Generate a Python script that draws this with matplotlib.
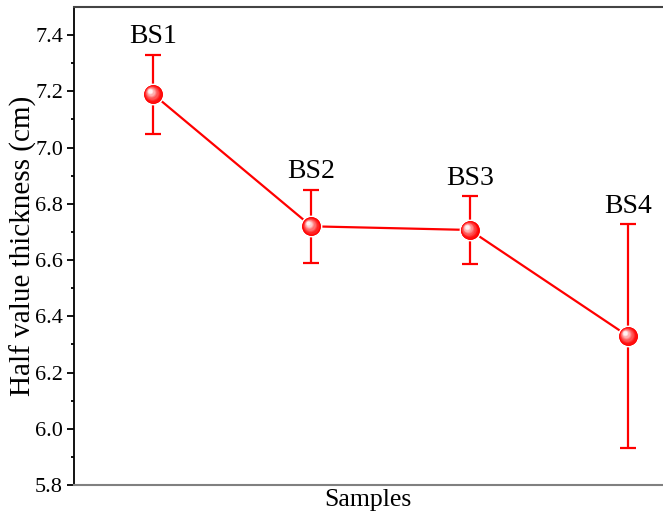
import matplotlib.pyplot as plt
import matplotlib.transforms as mtransforms
import numpy as np

samples = ['BS1', 'BS2', 'BS3', 'BS4']
hvt = [7.19, 6.72, 6.707, 6.33]
hvt_err = [0.14, 0.13, 0.12, 0.397]

plt.rcParams['font.family'] = ['Liberation Serif', 'DejaVu Serif']

fig = plt.figure(figsize=(6.63, 5.17), dpi=100)
ax = fig.add_axes([0.1116, 0.0619, 0.888, 0.9246])

x = np.arange(1, len(samples) + 1)
ax.errorbar(x, hvt, yerr=hvt_err, color='#ff0000', lw=1.6, elinewidth=1.6,
            capsize=5.5, capthick=1.6, zorder=2)

# glossy balls: stack of circles fading towards a white spot
ax.plot(x, hvt, 'o', ms=14.5, mfc='#ff0000', mec='white', mew=1.2, zorder=3)
n = 10
for k in range(n):
    t = k / (n - 1)
    size = 13.5 * (1 - t) + 3.0 * t
    col = (1.0, 0.95 * t ** 1.3, 0.95 * t ** 1.3)
    tr = mtransforms.offset_copy(ax.transData, fig=fig, x=-2.2 * t, y=2.2 * t, units='points')
    ax.plot(x, hvt, 'o', ms=size, mfc=col, mec='none', transform=tr, zorder=4 + k)

for xi, yi, ei, name in zip(x, hvt, hvt_err, samples):
    ax.annotate(name, (xi, yi + ei), xytext=(0, 13), textcoords='offset points',
                ha='center', va='center', fontsize=20)

ax.set_xlim(0.5, 4.22)
ax.set_ylim(5.8, 7.5)
ax.set_yticks(np.arange(5.8, 7.41, 0.2))
ax.set_yticks(np.arange(5.9, 7.5, 0.2), minor=True)
ax.set_xticks([])
ax.tick_params(axis='y', which='major', direction='out', length=5, width=1.3,
               labelsize=16, pad=3, labelfontfamily='Liberation Serif')
ax.tick_params(axis='y', which='minor', direction='out', length=2.5, width=1.3)
ax.yaxis.set_major_formatter(plt.FormatStrFormatter('%.1f'))

ax.spines['left'].set_linewidth(1.3)
ax.spines['top'].set_color('#444444')
ax.spines['top'].set_linewidth(1.5)
ax.spines['bottom'].set_color('#808080')
ax.spines['bottom'].set_linewidth(1.5)
ax.spines['right'].set_visible(False)

ax.set_xlabel('Samples', fontsize=18.5, labelpad=3)
ax.set_ylabel('Half value thickness (cm)', fontsize=21)
ax.yaxis.set_label_coords(-0.062, 0.5)

fig.savefig('out.png', dpi=100)
